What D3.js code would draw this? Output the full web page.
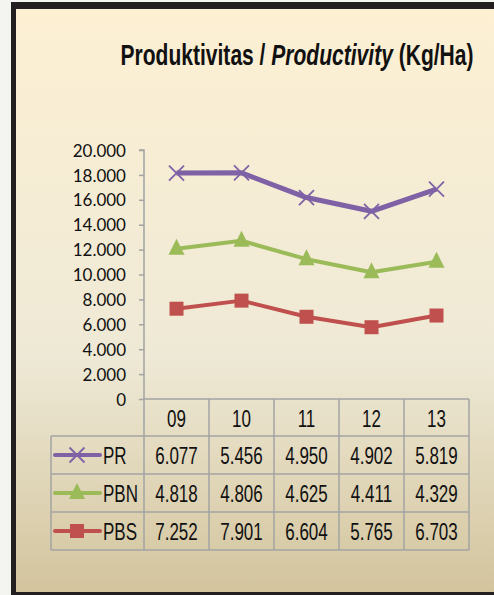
<!DOCTYPE html>
<html>
<head>
<meta charset="utf-8">
<script src="https://cdn.jsdelivr.net/npm/d3@7"></script>
<style>
  html, body { margin: 0; padding: 0; background: #f4f5f0; }
  svg { display: block; }
  .tick text { font-family: Lato, "Noto Sans", sans-serif; font-size: 17px; fill: #111; }
  .cell { font-family: "Liberation Sans", Arial, sans-serif; font-size: 23px; fill: #111; }
</style>
</head>
<body>
<svg width="494" height="595"></svg>
<script>
// data
var years = ['09', '10', '11', '12', '13'];
var seriesNames = ['PR', 'PBN', 'PBS'];
var PR  = [6077, 5456, 4950, 4902, 5819];
var PBN = [4818, 4806, 4625, 4411, 4329];
var PBS = [7252, 7901, 6604, 5765, 6703];
var yTicks = [0, 2000, 4000, 6000, 8000, 10000, 12000, 14000, 16000, 18000, 20000];
var colors = { PR: '#7f62a6', PBN: '#9bbb59', PBS: '#c0504d' };

const valuesOf = { PR: PR, PBN: PBN, PBS: PBS };

// tabel utk stack
const rows = years.map((y, i) => ({ year: y, PR: PR[i], PBN: PBN[i], PBS: PBS[i] }));
const stacked = d3.stack().keys(['PBS', 'PBN', 'PR'])(rows);

const loc = d3.formatLocale({ decimal: ',', thousands: '.', grouping: [3], currency: ['', ''] });
const fmt = loc.format(',.0f');

const svg = d3.select('svg');
const narrow = 0.74; // font sempit (Arial Narrow) disimulasikan dgn scaleX

// background + frame
const defs = svg.append('defs');
const grad = defs.append('linearGradient')
  .attr('id', 'bg').attr('x1', 0).attr('y1', 0).attr('x2', 0).attr('y2', 1);
grad.append('stop').attr('offset', '0%').attr('stop-color', '#fdf0d3');
grad.append('stop').attr('offset', '60%').attr('stop-color', '#eee9d6');
grad.append('stop').attr('offset', '100%').attr('stop-color', '#d3c49d');

svg.append('rect')
  .attr('x', 11).attr('y', 2).attr('width', 500).attr('height', 600)
  .attr('fill', '#231f20');
svg.append('rect')
  .attr('x', 16).attr('y', 9).attr('width', 500).attr('height', 583)
  .attr('fill', 'url(#bg)');

// title
const titleG = svg.append('g');
const title = titleG.append('text')
  .attr('x', 0).attr('y', 0)
  .attr('text-anchor', 'middle')
  .style('font-family', '"Liberation Sans", Arial, sans-serif')
  .style('font-weight', 'bold').style('font-size', '29px').style('fill', '#111');
title.append('tspan').text('Produktivitas / ');
title.append('tspan').style('font-style', 'italic').text('Productivity');
title.append('tspan').text(' (Kg/Ha)');
const tw = title.node().getComputedTextLength();
titleG.attr('transform', `translate(297,65) scale(${353 / tw},1)`);

// scales
const x = d3.scaleBand().domain(years).range([144, 469]);
const y = d3.scaleLinear().domain([0, 20000]).range([399, 150]);
const cx = d => x(d) + x.bandwidth() / 2;

// y axis
const yAxis = svg.append('g')
  .attr('transform', 'translate(144,0)')
  .call(d3.axisLeft(y).tickValues(yTicks).tickFormat(fmt).tickSize(5).tickPadding(13));
yAxis.selectAll('line, path').attr('stroke', '#a3a3a3').attr('stroke-width', 1.5);
yAxis.select('.domain').attr('d', `M-5,${y(20000)}H0V${y(0)}`);
yAxis.selectAll('.tick text').attr('dy', '0.36em');

// lines
const line = d3.line().x(d => cx(d.data.year)).y(d => y(d[1]));
const lineWidth = { PR: 5, PBN: 4, PBS: 4 };

function drawMarker(g, name, px, py) {
  if (name === 'PR') {
    const s = 7.5;
    g.append('path')
      .attr('d', `M${px - s},${py - s}L${px + s},${py + s}M${px - s},${py + s}L${px + s},${py - s}`)
      .attr('stroke', colors.PR).attr('stroke-width', 1.8).attr('fill', 'none');
  } else if (name === 'PBN') {
    g.append('path')
      .attr('d', `M${px},${py - 10}L${px + 8},${py + 6}L${px - 8},${py + 6}Z`)
      .attr('fill', colors.PBN);
  } else {
    g.append('rect')
      .attr('x', px - 7).attr('y', py - 7).attr('width', 14).attr('height', 14)
      .attr('fill', colors.PBS);
  }
}

stacked.forEach(s => {
  const g = svg.append('g');
  g.append('path')
    .datum(s)
    .attr('d', line)
    .attr('fill', 'none')
    .attr('stroke', colors[s.key])
    .attr('stroke-width', lineWidth[s.key])
    .attr('stroke-linejoin', 'round');
  s.forEach(d => drawMarker(g, s.key, cx(d.data.year), y(d[1])));
});

// data table
const gridColor = '#a3a3a3';
const tbl = svg.append('g');
const rowTop = 436, rowH = 38, tableLeft = 51;
const tableBottom = rowTop + rowH * seriesNames.length;

function cellText(px, py, txt, anchor) {
  tbl.append('text')
    .attr('class', 'cell')
    .attr('transform', `translate(${px},${py}) scale(${narrow},1)`)
    .attr('text-anchor', anchor)
    .text(txt);
}

// horizontal lines
tbl.append('line').attr('x1', 144).attr('x2', 469).attr('y1', y(0)).attr('y2', y(0));
d3.range(seriesNames.length + 1).forEach(i => {
  tbl.append('line').attr('x1', tableLeft).attr('x2', 469)
    .attr('y1', rowTop + i * rowH).attr('y2', rowTop + i * rowH);
});
// vertical lines
tbl.append('line').attr('x1', tableLeft).attr('x2', tableLeft).attr('y1', rowTop).attr('y2', tableBottom);
years.forEach(yr => {
  tbl.append('line').attr('x1', x(yr)).attr('x2', x(yr)).attr('y1', y(0)).attr('y2', tableBottom);
});
tbl.append('line').attr('x1', 469).attr('x2', 469).attr('y1', y(0)).attr('y2', tableBottom);
tbl.selectAll('line').attr('stroke', gridColor).attr('stroke-width', 1.5);

// header
years.forEach(yr => cellText(cx(yr), 427, yr, 'middle'));

// rows
seriesNames.forEach((name, r) => {
  const base = rowTop + r * rowH + 28;
  const mid = rowTop + r * rowH + rowH / 2;
  const lg = tbl.append('g');
  lg.append('line').attr('x1', 55).attr('x2', 100).attr('y1', mid).attr('y2', mid)
    .attr('stroke', colors[name]).attr('stroke-width', 4).attr('stroke-linecap', 'round');
  drawMarker(lg, name, 77, mid);
  cellText(103, base, name, 'start');
  valuesOf[name].forEach((v, i) => cellText(cx(years[i]), base, fmt(v), 'middle'));
});
</script>
</body>
</html>
